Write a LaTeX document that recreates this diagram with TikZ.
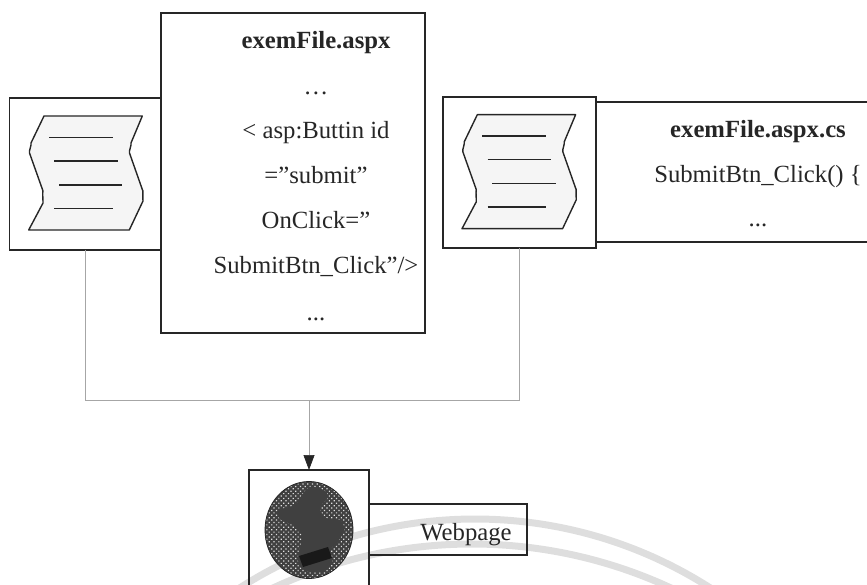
\documentclass[tikz,border=0pt]{standalone}
\usepackage{fontspec}
\setmainfont{Liberation Serif}
\usetikzlibrary{arrows.meta,patterns.meta,calc}
\definecolor{ink}{gray}{0.15}
\definecolor{wm}{gray}{0.87}
\definecolor{docfill}{gray}{0.96}
\tikzset{
  framebox/.style={draw=ink,line width=1.3pt,inner sep=0pt,outer sep=0pt,rectangle},
  label/.style={anchor=base,inner sep=0pt,text=ink,font=\fontsize{24.7}{28}\selectfont},
  boldlabel/.style={label,font=\fontsize{24.7}{28}\selectfont\bfseries},
  wire/.style={draw=gray!70,line width=0.7pt},
  arc band/.style={draw=wm,line width=7pt},
  docline/.style={draw=ink,line width=1.4pt},
}
\newcommand{\docicon}[2]{%
  \begin{scope}[shift={(#1,#2)}]
    \draw[docline,fill=docfill,line join=round]
      (44,116) -- (142.3,116) -- (131,143) to[out=-70,in=110,looseness=0.5] (129.5,153)
      -- (142.5,190) to[out=70,in=100,looseness=0.5] (143,201)
      -- (129.3,230) -- (28.7,230) -- (42.5,204) to[out=-60,in=-110,looseness=0.5] (43,191)
      -- (29.5,153) to[out=110,in=-70,looseness=0.5] (31,143) -- cycle;
    \draw[docline] (49,137.3) -- (112.7,137.3);
    \draw[docline] (54.3,161) -- (117.7,161);
    \draw[docline] (59,185) -- (122.3,185);
    \draw[docline] (54.3,208.3) -- (112.7,208.3);
  \end{scope}}
\begin{document}
\begin{tikzpicture}[x=1pt,y=-1pt]
\useasboundingbox (0,0) rectangle (867,585);
\clip (0,0) rectangle (867,585);
% watermark arcs
\draw[arc band] (475,955) ++(-125:436) arc[start angle=-125,end angle=-55,radius=436];
\draw[arc band] (472,1016) ++(-118:472) arc[start angle=-118,end angle=-62,radius=472];
% boxes
\node[framebox,minimum width=151.5pt,minimum height=152pt] (docA) at (85.25,174) {};
\node[framebox,minimum width=264pt,minimum height=320pt] (mainbox) at (293,173) {};
\node[framebox,minimum width=153pt,minimum height=151pt] (docB) at (519.5,172.5) {};
\node[framebox,minimum width=280pt,minimum height=140pt] (panel) at (736,172) {};
\node[framebox,minimum width=120pt,minimum height=160pt] (web) at (309,550) {};
\node[framebox,minimum width=158pt,minimum height=51pt] (page) at (448,529.5) {};
\docicon{0}{0}
\docicon{433.3}{-1.3}
% connectors
\coordinate (bus) at (309,400);
\draw[wire] (docA.south) |- (bus);
\draw[wire] (docB.south) |- (bus);
\draw[wire,-{Triangle[width=11pt,length=15pt,fill=ink,color=ink]}] (bus) -- (web.north);
% globe
\begin{scope}
  \fill[black!75] (309,530) ellipse[x radius=44,y radius=48.5];
  \fill[pattern={Dots[distance=3.4pt,radius=0.85pt,angle=45]},pattern color=gray!25] (309,530) ellipse[x radius=44,y radius=48.5];
  \draw[ink,line width=0.8pt] (309,530) ellipse[x radius=44,y radius=48.5];
  \fill[black!75]
    plot[smooth cycle,tension=0.6] coordinates {
    (310,487) (323,490) (328,497) (320,508) (326,518) (340,520) (344,530)
    (337,543) (330,550) (332,562) (323,572) (305,570) (298,560) (302,535)
    (293,525) (280,519) (279,510) (295,505) (302,495)};
  \fill[black!90] (299,556) -- (328,547) -- (332,558) -- (303,567) -- cycle;
\end{scope}
% labels
\node[boldlabel] (t1) at (316,49) {exemFile.aspx};
\node[label] (t2) at (316,95) {\ldots};
\node[label] (t3) at (316,139) {< asp:Buttin id};
\node[label] (t4) at (316,184) {=”submit”};
\node[label] (t5) at (316,229) {OnClick=”};
\node[label] (t6) at (316,274) {SubmitBtn\_Click”/>};
\node[label] (t7) at (316,320) {...};
\node[boldlabel] (r1) at (758,138) {exemFile.aspx.cs};
\node[label] (r2) at (758,183) {SubmitBtn\_Click() \{};
\node[label] (r3) at (758,227) {...};
\node[label] (w1) at (466,540) {Webpage};
\end{tikzpicture}
\end{document}
